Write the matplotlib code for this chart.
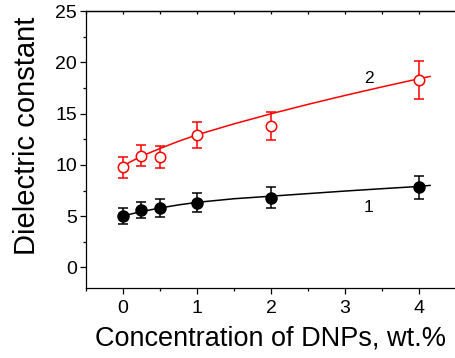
import numpy as np
import matplotlib
matplotlib.use("Agg")
import matplotlib.pyplot as plt
from matplotlib.ticker import MultipleLocator

plt.rcParams['font.family'] = ['Liberation Sans', 'DejaVu Sans']

# measured points
conc = [0, 0.25, 0.5, 1, 2, 4]
eps1 = [5.0, 5.6, 5.8, 6.3, 6.8, 7.8]
err1 = [0.75, 0.8, 0.85, 0.93, 1.0, 1.15]
eps2 = [9.75, 10.9, 10.75, 12.9, 13.8, 18.3]
err2 = [0.98, 1.05, 1.05, 1.25, 1.35, 1.85]

# fitted curves
fit_x = [0, 0.1, 0.25, 0.5, 0.75, 1, 1.5, 2, 2.5, 3, 3.5, 4, 4.15]
fit1 = [4.95, 5.2, 5.45, 5.8, 6.1, 6.35, 6.7, 6.95, 7.2, 7.45, 7.68, 7.9, 8.0]
fit2 = [9.86, 10.3, 10.85, 11.6, 12.3, 12.93, 14.0, 14.98, 15.9, 16.77, 17.6, 18.4, 18.62]

fig = plt.figure(figsize=(4.56, 3.58), dpi=100)
ax = fig.add_axes([86/456, 1 - 288/358, 1 - 86/456, (288 - 11)/358])

ax.plot(fit_x, fit2, color='red', lw=1.1)
ax.plot(fit_x, fit1, color='black', lw=1.1)
ax.errorbar(conc, eps2, yerr=err2, fmt='o', mfc='white', mec='red', ecolor='red',
            ms=7.5, mew=1.1, elinewidth=1.1, capsize=3.5, capthick=1.1)
ax.errorbar(conc, eps1, yerr=err1, fmt='o', color='black',
            ms=8, elinewidth=1.1, capsize=3.5, capthick=1.1)

ax.text(3.32, 18.45, '2', fontsize=12.5, ha='center', va='center')
ax.text(3.32, 5.8, '1', fontsize=12.5, ha='center', va='center')

ax.set_xlim(-0.5, 4.5)
ax.set_ylim(-2, 25)
ax.set_xticks([0, 1, 2, 3, 4])
ax.set_yticks([0, 5, 10, 15, 20, 25])
ax.xaxis.set_minor_locator(MultipleLocator(0.5))
ax.yaxis.set_minor_locator(MultipleLocator(2.5))
ax.tick_params(which='major', length=4.5, width=0.9, labelsize=14, direction='out')
ax.tick_params(which='minor', length=2.5, width=0.9, direction='out')
ax.tick_params(axis='y', pad=2)
ax.tick_params(axis='x', pad=4)
ax.spines['right'].set_visible(False)
for s in ['left', 'bottom', 'top']:
    ax.spines[s].set_linewidth(0.9)

top = ax.secondary_xaxis('top')
top.set_xticks([0, 1, 2, 3, 4])
top.xaxis.set_minor_locator(MultipleLocator(0.5))
top.tick_params(which='both', direction='in', length=2.5, width=0.9, labeltop=False)
top.spines['top'].set_linewidth(0.9)

ax.set_xlabel('Concentration of DNPs, wt.%', fontsize=19.5, labelpad=6)
ax.set_ylabel('Dielectric constant', fontsize=21, labelpad=10, y=0.55)

fig.savefig('out.png', dpi=100)
